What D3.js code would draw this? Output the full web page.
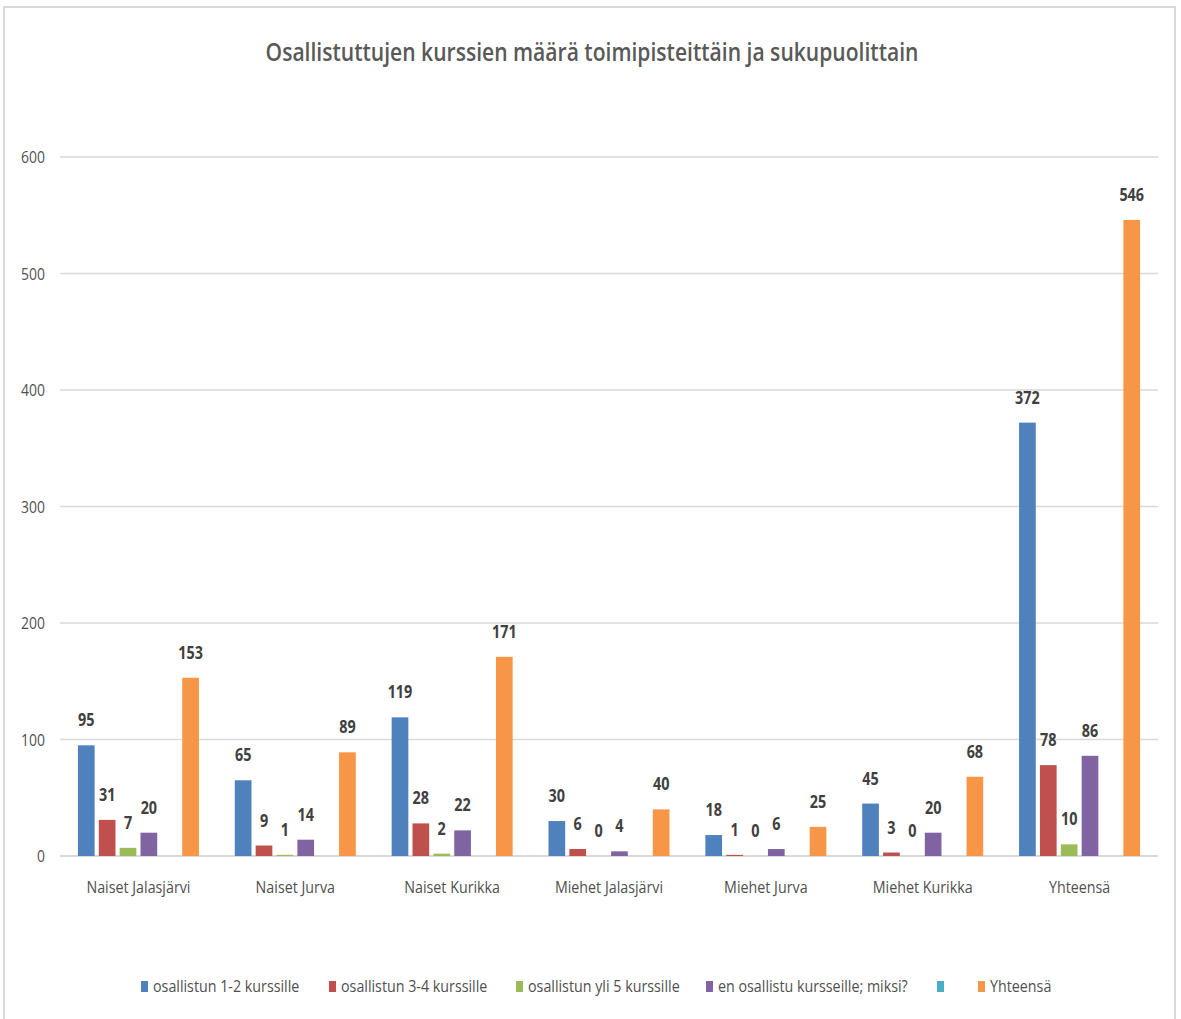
<!DOCTYPE html>
<html>
<head>
<meta charset="utf-8">
<script src="https://cdn.jsdelivr.net/npm/d3@7"></script>
<style>
  html, body { margin: 0; padding: 0; background: #fff; }
  svg { display: block; }
  text { font-family: "Open Sans", "Noto Sans", sans-serif; }
</style>
</head>
<body>
<svg id="chart" width="1181" height="1019"></svg>
<script>
const title = "Osallistuttujen kurssien määrä toimipisteittäin ja sukupuolittain";
const categories = ["Naiset Jalasjärvi", "Naiset Jurva", "Naiset Kurikka", "Miehet Jalasjärvi", "Miehet Jurva", "Miehet Kurikka", "Yhteensä"];
const seriesNames = ["osallistun 1-2 kurssille", "osallistun 3-4 kurssille", "osallistun yli 5 kurssille", "en osallistu kursseille; miksi?", "", "Yhteensä"];
const s1 = [95, 65, 119, 30, 18, 45, 372];
const s2 = [31, 9, 28, 6, 1, 3, 78];
const s3 = [7, 1, 2, 0, 0, 0, 10];
const s4 = [20, 14, 22, 4, 6, 20, 86];
const s5 = [null, null, null, null, null, null, null];
const s6 = [153, 89, 171, 40, 25, 68, 546];
const yTicks = [0, 100, 200, 300, 400, 500, 600];
const colors = ["#4F81BD", "#C0504D", "#9BBB59", "#8064A2", "#4BACC6", "#F79646"];

const seriesValues = [s1, s2, s3, s4, s5, s6];

const svg = d3.select("#chart");

// outer frame
svg.append("rect").attr("x", 4).attr("y", 7).attr("width", 1171).attr("height", 1030)
  .attr("fill", "#fff").attr("stroke", "#D9D9D9").attr("stroke-width", 2);

function ctext(parent, x, y, str, size, weight, fill, anchor, sx) {
  const g = parent.append("g").attr("transform", `translate(${x},${y}) scale(${sx},1)`);
  return g.append("text").attr("x", 0).attr("y", 0)
    .attr("font-size", size).attr("font-weight", weight).attr("fill", fill)
    .attr("text-anchor", anchor).text(str);
}

const plotLeft = 60, plotRight = 1158;
const x0 = d3.scaleBand().domain(categories).range([plotLeft, plotRight]).paddingInner(0).paddingOuter(0);
const groupW = 121;
const x1 = d3.scaleBand().domain(d3.range(seriesNames.length)).range([-groupW / 2, groupW / 2]).paddingInner(0.2);
const y = d3.scaleLinear().domain([0, 600]).range([856, 157]);

// gridlines
svg.append("g").selectAll("line").data(yTicks).join("line")
  .attr("x1", plotLeft).attr("x2", plotRight)
  .attr("y1", d => y(d)).attr("y2", d => y(d))
  .attr("stroke", "#D9D9D9").attr("stroke-width", d => d === 0 ? 2 : 1.5);

// y tick labels
yTicks.forEach(t => ctext(svg, 45, y(t) + 6, String(t), 17, 500, "#505050", "end", 0.82));

// bars
const barsG = svg.append("g");
seriesValues.forEach((vals, si) => {
  categories.forEach((c, ci) => {
    const v = vals[ci];
    if (v === null) return;
    const bx = x0(c) + x0.bandwidth() / 2 + x1(si);
    if (v > 0) {
      barsG.append("rect")
        .attr("x", bx).attr("y", y(v))
        .attr("width", x1.bandwidth()).attr("height", y(0) - y(v))
        .attr("fill", colors[si]);
    }
    ctext(barsG, bx + x1.bandwidth() / 2, y(v) - 19, String(v), 18, 700, "#404040", "middle", 0.8);
  });
});

// category labels
categories.forEach(c => ctext(svg, x0(c) + x0.bandwidth() / 2, 893, c, 17, 500, "#505050", "middle", 0.84));

// title
ctext(svg, 592, 61, title, 25, 600, "#595959", "middle", 0.843);

// legend
const legendX = [141, 329, 516, 706, 937, 978];
seriesNames.forEach((n, i) => {
  svg.append("rect").attr("x", legendX[i]).attr("y", 981).attr("width", 7).attr("height", 11).attr("fill", colors[i]);
  ctext(svg, legendX[i] + 12, 992, n, 17, 500, "#505050", "start", 0.84);
});
</script>
</body>
</html>
